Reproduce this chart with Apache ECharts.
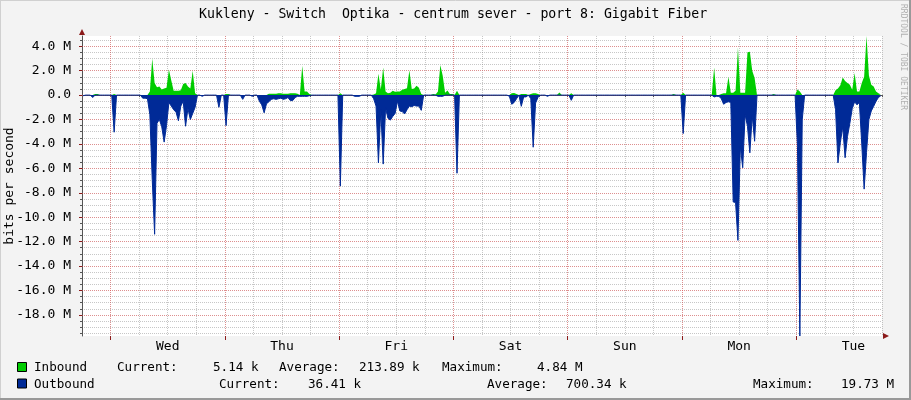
<!DOCTYPE html>
<html><head><meta charset="utf-8">
<script src="https://cdn.jsdelivr.net/npm/echarts@6/dist/echarts.min.js"></script>
<style>html,body{margin:0;padding:0;background:#F3F3F3;}#c{width:911px;height:400px;}</style>
</head><body><div id="c"></div>
<script>
// ---- data (values in M bits per second, one value per 30-minute bin, 336 bins = 7 days) ----
const dayNames = ['Wed','Thu','Fri','Sat','Sun','Mon','Tue'];
const binHours = 0.5;
const firstMidnightHour = 6;      // hours from start of graph to first midnight
const totalHours = 168;
const yMaxM = 4.84, yMinM = -19.73;
const inbound = [
 0,0,0,0,0,0.1,0.1,0,0,0,0,0,0,0.1,0,0,0,0,0,0,0,0,0,0,
 0,0,0,0,0.3,3.0,1.0,0.65,0.7,0.45,0.55,0.6,2.1,1.2,0.35,0.35,0.35,0.4,0.9,1.0,0.7,0.55,2.0,0.15,
 0,0,0,0,0,0,0,0,0,0,0,0,0.1,0.1,0,0,0,0,0,0,0,0,0,0,
 0,0,0,0,0,0,0.12,0.12,0.12,0.12,0.15,0.15,0.12,0.12,0.12,0.15,0.15,0.15,0.12,0,2.4,0.3,0.3,0.1,
 0,0,0,0,0,0,0,0,0,0,0,0,0.15,0,0,0,0,0,0,0,0,0,0,0,
 0,0,0.05,0.15,1.75,0.45,2.26,0.3,0.15,0.2,0.35,0.27,0.3,0.3,0.43,0.5,0.57,2.04,0.5,0.55,0.76,0.6,0.1,0,
 0,0,0,0.1,0.05,0.3,2.47,1.58,0.2,0.38,0.1,0.1,0,0.35,0,0,0,0,0,0,0,0,0,0,
 0,0,0,0,0,0,0,0,0,0,0,0,0.15,0.17,0.1,0,0.1,0.1,0.1,0,0.1,0.16,0.16,0.1,
 0,0,0,0,0,0,0,0,0.22,0,0,0,0,0.16,0,0,0,0,0,0,0,0,0,0,
 0,0,0,0,0,0,0,0,0,0,0,0,0,0,0,0,0,0,0,0,0,0,0,0,
 0,0,0,0,0,0,0,0,0.1,0,0,0,0.2,0,0,0,0,0,0,0,0,0,0,0,
 0,2.26,0,0,0.1,0.15,0.15,1.5,0.2,0.2,0.35,3.9,0.2,0.2,0.2,3.5,3.55,2.0,1.4,0,0,0,0,0,
 0,0,0.1,0,0,0,0,0,0,0,0,0,0.45,0.3,0,0,0,0,0,0,0,0,0,0,
 0,0,0,0,0.4,0.55,0.8,1.45,1.15,1.0,0.85,0.43,1.8,0.3,0.3,1.0,1.5,4.84,1.6,0.85,0.7,0.3,0.15,0.05
];
const outbound = [
 0.05,0,0,0,0.2,0,0,0,0,0,0,0,0,3.04,0,0,0,0,0,0,0,0,0,0,
 0,0.25,0.25,0.3,1.6,6.9,11.4,2.3,2.0,2.6,3.85,2.5,0.6,0.9,1.2,1.4,2.1,0.9,0.5,2.55,1.1,2.0,1.5,1.0,
 0,0,0.1,0,0,0,0,0,0,1.0,0,0,2.5,0,0,0,0,0,0,0.35,0,0,0,0.1,
 0,0,0.5,0.8,1.45,0.7,0.55,0.35,0.3,0.35,0.3,0.25,0.35,0.3,0.2,0.45,0.45,0.2,0.1,0.1,0.1,0.1,0.1,0.05,
 0,0,0,0,0,0,0,0,0,0,0,0,7.45,0,0,0,0,0,0.1,0.1,0.1,0,0,0,
 0,0,0.3,0.9,5.55,1.2,5.65,1.05,1.9,2.05,1.75,1.5,0.5,1.3,1.35,1.55,1.2,0.9,0.95,0.85,0.9,0.9,1.25,0,
 0,0,0,0,0,0.1,0.1,0.1,0,0,0,0,0,6.4,0,0,0,0,0,0,0,0,0,0,
 0,0,0,0,0,0,0,0,0,0,0,0.1,0.75,0.6,0.3,0,0.92,0.15,0.15,0,0.3,4.27,0.65,0.2,
 0,0,0,0.1,0,0,0,0,0,0,0,0,0,0.43,0,0,0,0,0,0,0,0,0,0,
 0,0,0,0,0,0,0,0,0,0,0,0,0,0,0,0,0,0,0,0,0,0,0,0,
 0,0,0,0,0,0,0,0,0,0,0,0,3.15,0,0,0,0,0,0,0,0,0,0,0,
 0,0.15,0.1,0.1,0.3,0.75,0.6,0.55,0.6,8.75,8.8,11.9,4.2,5.95,1.6,2.55,4.73,1.7,3.78,0,0,0,0,0,
 0,0,0,0,0,0,0,0,0,0,0,0,4.2,19.73,2.0,0,0,0,0,0,0,0,0,0,
 0,0,0,0,1.2,5.55,3.9,2.6,5.13,3.4,2.3,1.1,0.55,0.8,0.6,4.0,7.7,4.7,2.0,1.3,0.92,0.5,0.2,0.05
];
const legendRows = [
  {name:'Inbound',  color:'#00CC00', texts:[['Current:',117],['5.14 k',213],['Average:',279],['213.89 k',359],['Maximum:',442],['4.84 M',537]]},
  {name:'Outbound', color:'#002A97', texts:[['Current:',219],['36.41 k',308],['Average:',487],['700.34 k',566],['Maximum:',753],['19.73 M',841]]}
];
const titleText = 'Kukleny - Switch  Optika - centrum sever - port 8: Gigabit Fiber';

// ---- layout ----
const L = 82, T = 36, W = 800, H = 300;
const kY = H / (yMaxM - yMinM);
const kX = W / totalHours;
const FONT = 'DejaVu Sans Mono';
const gridCol = 'rgba(130,130,130,0.45)';
const mgridCol = 'rgba(255,60,60,0.40)';

const chart = echarts.init(document.getElementById('c'), null, {renderer:'canvas'});
const toPts = (arr, sign) => arr.map((v,i) => [(i+0.5)*binHours, sign*v]);

const graphics = [];
// border
graphics.push({type:'line', shape:{x1:0,y1:0.5,x2:911,y2:0.5}, style:{stroke:'#D0D0D0',lineWidth:1}, silent:true});
graphics.push({type:'line', shape:{x1:0.5,y1:0,x2:0.5,y2:400}, style:{stroke:'#D0D0D0',lineWidth:1}, silent:true});
graphics.push({type:'line', shape:{x1:0,y1:399,x2:911,y2:399}, style:{stroke:'#999999',lineWidth:2}, silent:true});
graphics.push({type:'line', shape:{x1:910,y1:0,x2:910,y2:400}, style:{stroke:'#999999',lineWidth:2}, silent:true});
// arrows
graphics.push({type:'polygon', shape:{points:[[L-3,T-1],[L+3,T-1],[L,T-7]]}, style:{fill:'#8B1A1A'}, silent:true});
graphics.push({type:'polygon', shape:{points:[[L+W+1,T+H-3],[L+W+1,T+H+3],[L+W+7,T+H]]}, style:{fill:'#8B1A1A'}, silent:true});
// watermark
graphics.push({type:'text', x:903, y:4, rotation:-Math.PI/2, style:{text:'RRDTOOL / TOBI OETIKER', fill:'#B0B0B0', font:'8px "DejaVu Sans Mono"', textAlign:'left', textVerticalAlign:'middle'}, silent:true});
// y axis name
graphics.push({type:'text', x:10, y:186, rotation:Math.PI/2, style:{text:'bits per second', fill:'#000', font:'13px "DejaVu Sans Mono"', textAlign:'center', textVerticalAlign:'middle'}, silent:true});
// legend
legendRows.forEach((row, r) => {
  const y = 368 + r*16.5;
  graphics.push({type:'rect', shape:{x:17.5,y:y-5.5,width:9,height:9}, style:{fill:row.color, stroke:'#000', lineWidth:1}, silent:true});
  graphics.push({type:'text', x:34, y:y, style:{text:row.name, fill:'#000', font:'12.6px "DejaVu Sans Mono"', textVerticalAlign:'middle'}, silent:true});
  row.texts.forEach(t => graphics.push({type:'text', x:t[1], y:y, style:{text:t[0], fill:'#000', font:'12.6px "DejaVu Sans Mono"', textVerticalAlign:'middle'}, silent:true}));
});

const option = {
  animation:false,
  backgroundColor:'#F3F3F3',
  title:{text:titleText, left:199, top:8, padding:0, textStyle:{fontFamily:FONT, fontSize:13.2, fontWeight:'normal', color:'#000'}},
  grid:[
    {left:L, top:T, width:W, height:H, show:true, backgroundColor:'#FFFFFF', borderWidth:0},
    {left:L, top:T+(yMaxM-4.5)*kY, width:W, height:24*kY},
    {left:L, top:T+(yMaxM-4)*kY, width:W, height:22*kY},
    {left:L+firstMidnightHour*kX, top:T, width:144*kX, height:H}
  ],
  xAxis:[
    {gridIndex:0, type:'value', min:0, max:totalHours, interval:6, z:0,
     axisLine:{show:true, lineStyle:{color:'#555', width:1}},
     axisTick:{show:true, length:2, lineStyle:{color:'#555'}},
     splitLine:{show:true, lineStyle:{color:gridCol, type:[1,1], width:1}},
     axisLabel:{show:true, margin:4, interval:0, fontFamily:FONT, fontSize:13, color:'#000',
       formatter:v => { const d = (v - firstMidnightHour - 12)/24; return (Number.isInteger(d) && d >= 0 && d < dayNames.length) ? dayNames[d] : ''; }}},
    {gridIndex:1, type:'value', min:0, max:1, show:false},
    {gridIndex:2, type:'value', min:0, max:1, show:false},
    {gridIndex:3, type:'value', min:0, max:144, interval:24, z:1,
     axisLine:{show:false}, axisLabel:{show:false},
     axisTick:{show:true, length:4, lineStyle:{color:'#8B1A1A'}},
     splitLine:{show:true, lineStyle:{color:mgridCol, type:[1,1], width:1}}}
  ],
  yAxis:[
    {gridIndex:0, type:'value', min:yMinM, max:yMaxM, z:0,
     axisLine:{show:true, lineStyle:{color:'#555'}}, axisTick:{show:false}, axisLabel:{show:false}, splitLine:{show:false}},
    {gridIndex:1, type:'value', min:-19.5, max:4.5, interval:0.5, z:0,
     axisLine:{show:false}, axisLabel:{show:false},
     axisTick:{show:true, length:2, lineStyle:{color:'#555'}},
     splitLine:{show:true, lineStyle:{color:gridCol, type:[1,1], width:1}}},
    {gridIndex:2, type:'value', min:-18, max:4, interval:2, z:1,
     axisLine:{show:false},
     axisTick:{show:true, length:3, lineStyle:{color:'#8B1A1A'}},
     splitLine:{show:true, lineStyle:{color:mgridCol, type:[1,1], width:1}},
     axisLabel:{show:true, margin:11, fontFamily:FONT, fontSize:13, color:'#000',
       formatter:v => v === 0 ? '0.0' : v.toFixed(1) + ' M'}},
    {gridIndex:3, type:'value', min:0, max:1, show:false}
  ],
  series:[
    {name:'Inbound', type:'line', xAxisIndex:0, yAxisIndex:0, symbol:'none', z:3,
     data:toPts(inbound, 1), lineStyle:{width:0, opacity:0}, areaStyle:{color:'#00CC00', opacity:1}},
    {name:'Outbound', type:'line', xAxisIndex:0, yAxisIndex:0, symbol:'none', z:4,
     data:toPts(outbound, -1), lineStyle:{width:1, color:'#002A97'}, areaStyle:{color:'#002A97', opacity:1}}
  ],
  graphic:graphics
};
chart.setOption(option);
</script>
</body></html>
